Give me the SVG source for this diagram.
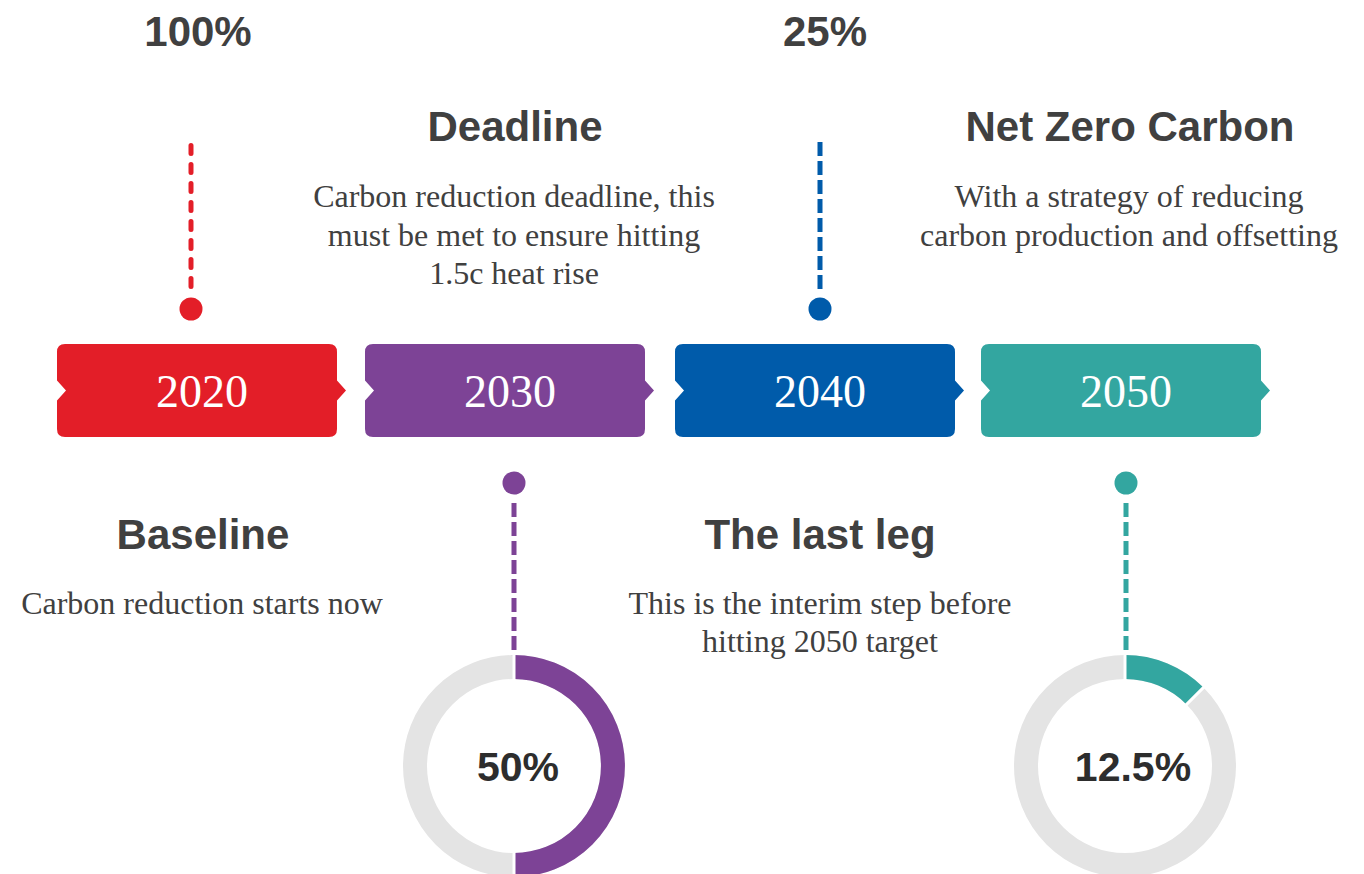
<svg xmlns="http://www.w3.org/2000/svg" width="1364" height="874" viewBox="0 0 1364 874">
<style>
.h{font-family:"Liberation Sans",Arial,sans-serif;font-weight:bold;font-size:42px;fill:#404040;text-anchor:middle}
.p{font-family:"Liberation Serif","Times New Roman",serif;font-size:32px;fill:#404040;text-anchor:middle}
.yr{font-family:"Liberation Serif","Times New Roman",serif;font-size:46px;fill:#ffffff;text-anchor:middle}
.pct{font-family:"Liberation Sans",Arial,sans-serif;font-weight:bold;font-size:41px;fill:#2d2d2d;text-anchor:middle}
.ring{fill:none;stroke-width:24}
.gap{stroke:#ffffff;stroke-width:3}
.dash{stroke-width:5;fill:none;stroke-dasharray:14 5}
</style>
<defs>
<path id="box" d="M8,0 H272 Q280,0 280,8 V36.5 L289,46.5 L280,56.5 V85 Q280,93 272,93 H8 Q0,93 0,85 V56.5 L9,46.5 L0,36.5 V8 Q0,0 8,0 Z"/>
</defs>
<rect width="1364" height="874" fill="#ffffff"/>
<g id="connectors">
<line x1="191" y1="145.5" x2="191" y2="286.5" stroke="#E31E28" stroke-width="5" stroke-linecap="round" stroke-dasharray="8 11"/>
<line class="dash" x1="820" y1="142" x2="820" y2="290" stroke="#005BAA"/>
<line class="dash" x1="514" y1="503" x2="514" y2="657" stroke="#7D4396"/>
<line class="dash" x1="1126" y1="503" x2="1126" y2="657" stroke="#33A6A0"/>
<circle cx="191" cy="309" r="11.5" fill="#E31E28"/>
<circle cx="820" cy="309" r="11.5" fill="#005BAA"/>
<circle cx="514" cy="483" r="11.5" fill="#7D4396"/>
<circle cx="1126" cy="483" r="11.5" fill="#33A6A0"/>
</g>
<g id="node-2020">
<use href="#box" x="57" y="344" fill="#E31E28"/>
<text class="yr" x="202" y="407">2020</text>
<text class="h" x="198" y="46">100%</text>
<text class="h" x="203" y="549">Baseline</text>
<text class="p" x="202" y="614">Carbon reduction starts now</text>
</g>
<g id="node-2030">
<use href="#box" x="365" y="344" fill="#7D4396"/>
<text class="yr" x="510" y="407">2030</text>
<text class="h" x="515" y="141">Deadline</text>
<text class="p" x="514" y="207">Carbon reduction deadline, this</text>
<text class="p" x="514" y="246">must be met to ensure hitting</text>
<text class="p" x="514" y="284">1.5c heat rise</text>
<circle class="ring" cx="514" cy="766" r="99" stroke="#E4E4E4"/>
<path class="ring" d="M514,667 A99,99 0 0 1 514,865" stroke="#7D4396"/>
<line class="gap" x1="514" y1="652" x2="514" y2="682"/>
<line class="gap" x1="514" y1="850" x2="514" y2="880"/>
<text class="pct" x="518" y="781">50%</text>
</g>
<g id="node-2040">
<use href="#box" x="675" y="344" fill="#005BAA"/>
<text class="yr" x="820" y="407">2040</text>
<text class="h" x="825" y="46">25%</text>
<text class="h" x="820" y="549">The last leg</text>
<text class="p" x="820" y="614">This is the interim step before</text>
<text class="p" x="820" y="652">hitting 2050 target</text>
</g>
<g id="node-2050">
<use href="#box" x="981" y="344" fill="#33A6A0"/>
<text class="yr" x="1126" y="407">2050</text>
<text class="h" x="1130" y="141">Net Zero Carbon</text>
<text class="p" x="1129" y="207">With a strategy of reducing</text>
<text class="p" x="1129" y="246">carbon production and offsetting</text>
<circle class="ring" cx="1125" cy="766" r="99" stroke="#E4E4E4"/>
<path class="ring" d="M1125,667 A99,99 0 0 1 1195,696" stroke="#33A6A0"/>
<line class="gap" x1="1125" y1="652" x2="1125" y2="682"/>
<line class="gap" x1="1184.4" y1="706.6" x2="1205.6" y2="685.4"/>
<text class="pct" x="1133" y="781">12.5%</text>
</g>
</svg>
